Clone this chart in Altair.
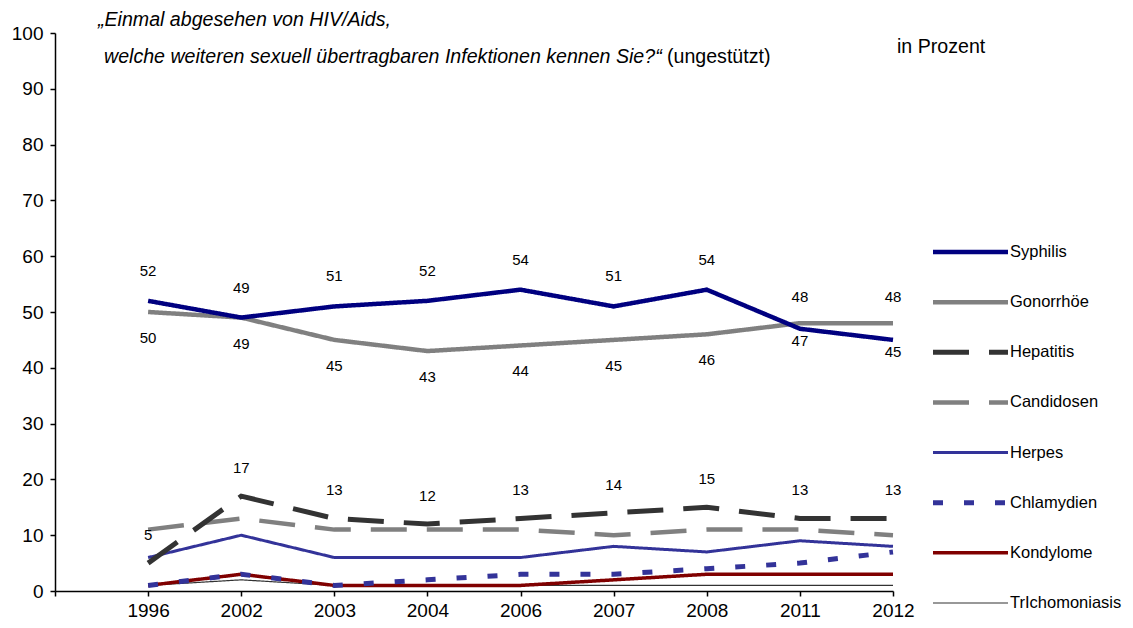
import altair as alt
import pandas as pd

years = ["1996", "2002", "2003", "2004", "2006", "2007", "2008", "2011", "2012"]
series = ["Syphilis", "Gonorrhöe", "Hepatitis", "Candidosen", "Herpes",
          "Chlamydien", "Kondylome", "TrIchomoniasis"]

syphilis = [52, 49, 51, 52, 54, 51, 54, 47, 45]
gonorrhoe = [50, 49, 45, 43, 44, 45, 46, 48, 48]
hepatitis = [5, 17, 13, 12, 13, 14, 15, 13, 13]
candidosen = [11, 13, 11, 11, 11, 10, 11, 11, 10]
herpes = [6, 10, 6, 6, 6, 8, 7, 9, 8]
chlamydien = [1, 3, 1, 2, 3, 3, 4, 5, 7]
kondylome = [1, 3, 1, 1, 1, 2, 3, 3, 3]
trichomoniasis = [1, 2, 1, 1, 1, 1, 1, 1, 1]

title_line1 = "„Einmal abgesehen von HIV/Aids,"
title_line2 = "welche weiteren sexuell übertragbaren Infektionen kennen Sie?“"
title_suffix = "(ungestützt)"
unit_text = "in Prozent"

colors = ["#000080", "#808080", "#333333", "#808080", "#333399", "#333399", "#800000", "#333333"]
dashes = [[1, 0], [1, 0], [36, 20], [36, 20], [1, 0], [10, 21], [1, 0], [1, 0]]
widths = [4.5, 4.5, 5, 4.5, 3, 5, 3.5, 1.2]

all_values = [syphilis, gonorrhoe, hepatitis, candidosen, herpes, chlamydien, kondylome, trichomoniasis]
rows = []
for s, vals in reversed(list(zip(series, all_values))):
    for yr, v in zip(years, vals):
        rows.append({"year": yr, "series": s, "value": v})
df = pd.DataFrame(rows)

lab = []
for yr, s, g, h in zip(years, syphilis, gonorrhoe, hepatitis):
    lab.append({"year": yr, "value": s, "pos": "s_above" if s >= g else "s_below"})
    lab.append({"year": yr, "value": g, "pos": "g_above" if g > s else "g_below"})
    lab.append({"year": yr, "value": h, "pos": "h_above"})
lab_df = pd.DataFrame(lab)
offsets = {"s_above": -30, "s_below": 12, "g_above": -26, "g_below": 26, "h_above": -28}

legend_df = pd.DataFrame({"series": series})

xdomain = [""] + years
X = alt.X("year:N", sort=xdomain,
          scale=alt.Scale(type="point", domain=xdomain, padding=0),
          axis=alt.Axis(title=None, labelAngle=0, labelPadding=5))
Y = alt.Y("value:Q", scale=alt.Scale(domain=[0, 100]),
          axis=alt.Axis(title=None, values=list(range(0, 101, 10)), labelPadding=7))

color_enc = alt.Color("series:N", scale=alt.Scale(domain=series, range=colors), legend=None)
dash_enc = alt.StrokeDash("series:N", scale=alt.Scale(domain=series, range=dashes), legend=None)
width_enc = alt.StrokeWidth("series:N", scale=alt.Scale(type="ordinal", domain=series, range=widths),
                            legend=None)

lines = alt.Chart(df).mark_line().encode(
    x=X, y=Y, color=color_enc, strokeDash=dash_enc, strokeWidth=width_enc,
)

main_layers = [lines]
for pos, dy in offsets.items():
    main_layers.append(
        alt.Chart(lab_df).transform_filter(alt.datum.pos == pos).mark_text(
            font="Liberation Sans", fontSize=15, color="black", dy=dy
        ).encode(x=X, y=Y, text="value:Q")
    )

def note(text, x, y, style="normal", align="left"):
    return alt.Chart(pd.DataFrame({"t": [text]})).mark_text(
        font="Liberation Sans", fontSize=19.6, fontStyle=style, color="black",
        align=align, baseline="middle"
    ).encode(x=alt.value(x), y=alt.value(y), text="t:N")

main_layers += [
    note(title_line1, 43, -13, "italic"),
    note(title_line2, 49, 24, "italic"),
    note(title_suffix, 612, 24),
    note(unit_text, 842, 14),
]
main = alt.layer(*main_layers)

# legend drawn from its own point scale
LY = alt.Y("series:N", sort=series,
           scale=alt.Scale(type="point", domain=series, range=[219, 570], padding=0), axis=None)
leg_lines = alt.Chart(legend_df).mark_rule().encode(
    y=LY, x=alt.value(878), x2=alt.value(953),
    color=color_enc, strokeDash=dash_enc, strokeWidth=width_enc,
)
leg_text = alt.Chart(legend_df).mark_text(
    font="Liberation Sans", fontSize=16.5, color="black", align="left", baseline="middle"
).encode(y=LY, x=alt.value(955), text="series:N")
legend = alt.layer(leg_lines, leg_text)

chart = alt.layer(main, legend).resolve_scale(y="independent").properties(
    width=838, height=558,
    padding={"left": 3, "top": 2, "right": 0, "bottom": 0},
).configure_view(stroke=None).configure_axis(
    labelFont="Liberation Sans", labelFontSize=19, labelColor="black",
    domainColor="black", tickColor="black", domainWidth=1.5, tickWidth=1.5,
    tickSize=5, grid=False,
)

chart.save("out.html", embed_options={"renderer": "svg", "actions": False})
